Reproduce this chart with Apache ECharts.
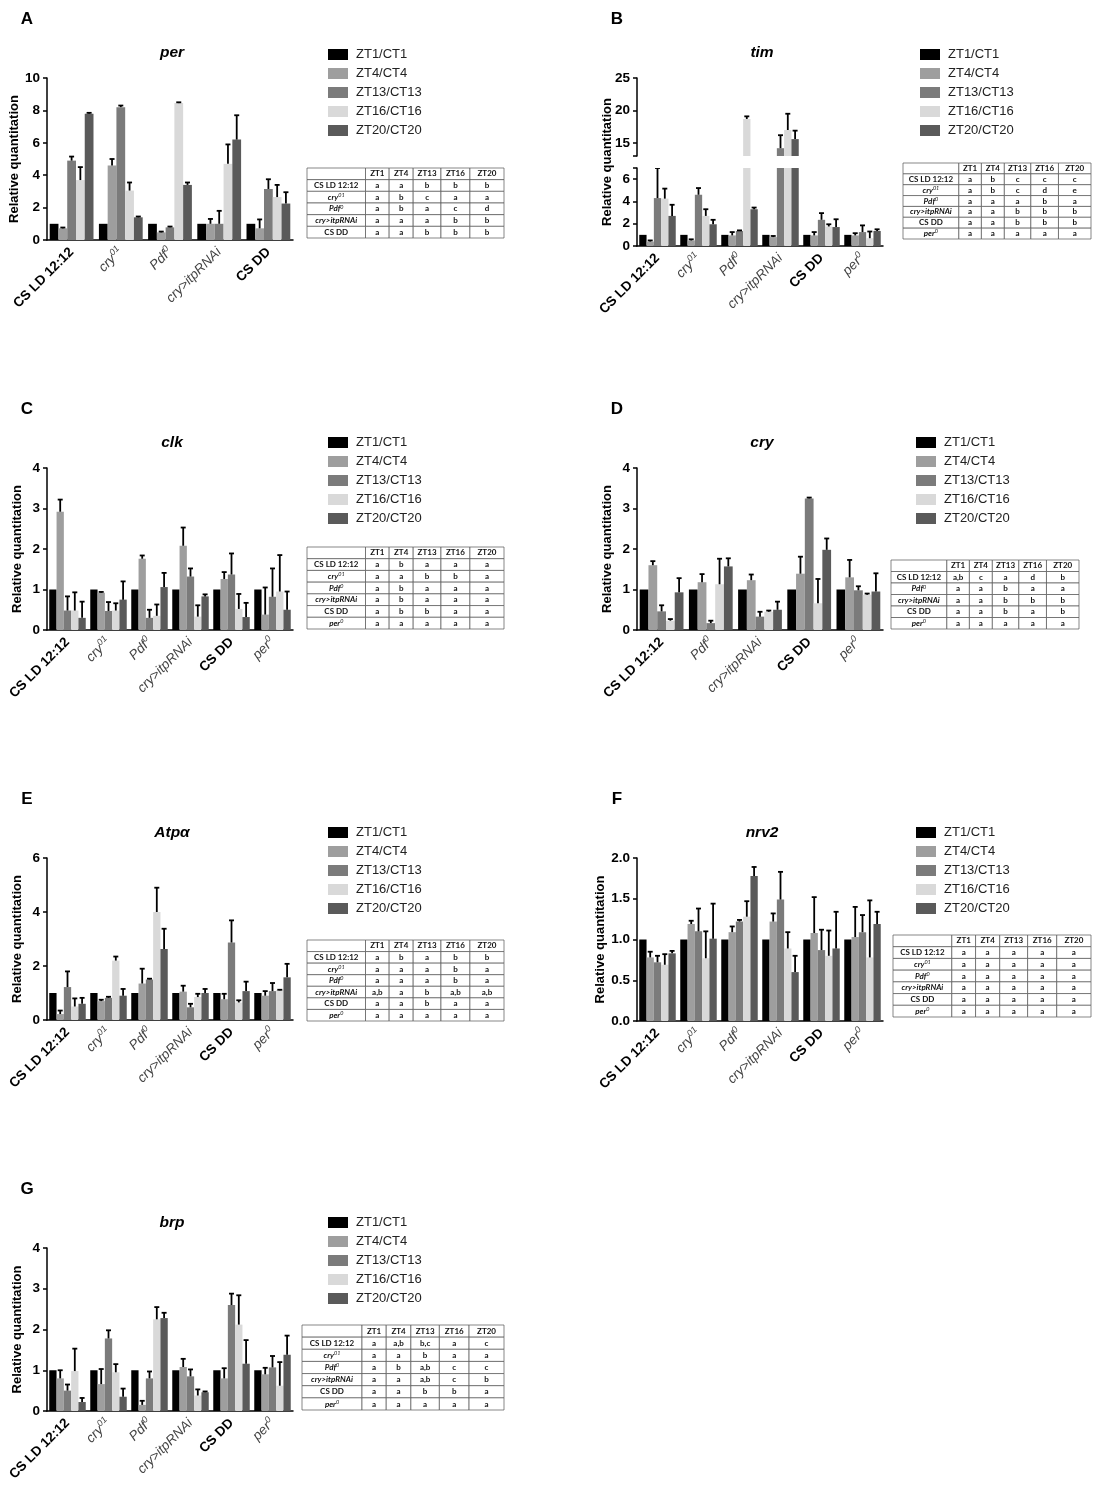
<!DOCTYPE html>
<html>
<head>
<meta charset="utf-8">
<script src="https://cdn.jsdelivr.net/npm/echarts@6/dist/echarts.min.js"></script>
<style>
html, body { margin: 0; background: #fff; }
#main { width: 1100px; height: 1491px; }
</style>
</head>
<body>
<div id="main"></div>
<script>
// 时间点 / 表头
var timePoints = ['ZT1/CT1', 'ZT4/CT4', 'ZT13/CT13', 'ZT16/CT16', 'ZT20/CT20'];
var tableHead = ['ZT1', 'ZT4', 'ZT13', 'ZT16', 'ZT20'];

// 基因型
var genoA = ['CS LD 12:12', 'cry01', 'Pdf0', 'cry>itpRNAi', 'CS DD'];
var genoAll = ['CS LD 12:12', 'cry01', 'Pdf0', 'cry>itpRNAi', 'CS DD', 'per0'];
var genoD = ['CS LD 12:12', 'Pdf0', 'cry>itpRNAi', 'CS DD', 'per0'];

// per  (rows = ZT1..ZT20, cols = genotype)
var perMean = [
    [1, 1, 1, 1, 1],
    [0.72, 4.6, 0.47, 1.0, 0.72],
    [4.9, 8.2, 0.78, 1.0, 3.15],
    [3.7, 3.05, 8.45, 4.7, 2.65],
    [7.8, 1.4, 3.4, 6.2, 2.25]
];
var perErr = [
    [0, 0, 0, 0, 0],
    [0.05, 0.4, 0.05, 0.3, 0.55],
    [0.25, 0.1, 0.05, 0.8, 0.6],
    [0.8, 0.5, 0.05, 1.2, 0.75],
    [0.05, 0.05, 0.15, 1.5, 0.7]
];
var perTable = [
    ['CS LD 12:12', 'a', 'a', 'b', 'b', 'b'],
    ['cry01', 'a', 'b', 'c', 'a', 'a'],
    ['Pdf0', 'a', 'b', 'a', 'c', 'd'],
    ['cry>itpRNAi', 'a', 'a', 'a', 'b', 'b'],
    ['CS DD', 'a', 'a', 'b', 'b', 'b']
];

// tim
var timMean = [
    [1, 1, 1, 1, 1, 1],
    [0.4, 0.5, 0.95, 0.8, 0.95, 0.95],
    [4.3, 4.6, 1.35, 14.2, 2.35, 1.25],
    [4.25, 2.7, 18.7, 17.0, 1.75, 0.7],
    [2.7, 1.95, 3.3, 15.6, 1.7, 1.35]
];
var timErr = [
    [0, 0, 0, 0, 0, 0],
    [0.1, 0.1, 0.3, 0.1, 0.3, 0.2],
    [2.7, 0.6, 0.05, 2.0, 0.6, 0.6],
    [0.9, 0.6, 0.4, 2.5, 0.2, 0.6],
    [1.0, 0.4, 0.15, 1.3, 0.7, 0.15]
];
var timTable = [
    ['CS LD 12:12', 'a', 'b', 'c', 'c', 'c'],
    ['cry01', 'a', 'b', 'c', 'd', 'e'],
    ['Pdf0', 'a', 'a', 'a', 'b', 'a'],
    ['cry>itpRNAi', 'a', 'a', 'b', 'b', 'b'],
    ['CS DD', 'a', 'a', 'b', 'b', 'b'],
    ['per0', 'a', 'a', 'a', 'a', 'a']
];

// clk
var clkMean = [
    [1, 1, 1, 1, 1, 1],
    [2.92, 0.92, 1.76, 2.08, 1.26, 0.38],
    [0.48, 0.47, 0.3, 1.32, 1.37, 0.82],
    [0.48, 0.48, 0.35, 0.33, 0.52, 0.95],
    [0.3, 0.75, 1.06, 0.83, 0.32, 0.5]
];
var clkErr = [
    [0, 0, 0, 0, 0, 0],
    [0.3, 0.02, 0.08, 0.45, 0.17, 0.67],
    [0.35, 0.22, 0.2, 0.2, 0.52, 0.7],
    [0.45, 0.18, 0.28, 0.28, 0.37, 0.9],
    [0.4, 0.45, 0.35, 0.05, 0.35, 0.45]
];
var clkTable = [
    ['CS LD 12:12', 'a', 'b', 'a', 'a', 'a'],
    ['cry01', 'a', 'a', 'b', 'b', 'a'],
    ['Pdf0', 'a', 'b', 'a', 'a', 'a'],
    ['cry>itpRNAi', 'a', 'b', 'a', 'a', 'a'],
    ['CS DD', 'a', 'b', 'b', 'a', 'a'],
    ['per0', 'a', 'a', 'a', 'a', 'a']
];

// cry
var cryMean = [
    [1, 1, 1, 1, 1],
    [1.6, 1.18, 1.23, 1.39, 1.3],
    [0.46, 0.17, 0.33, 3.25, 0.98],
    [0.23, 1.13, 0.45, 0.66, 0.87],
    [0.93, 1.57, 0.5, 1.98, 0.95]
];
var cryErr = [
    [0, 0, 0, 0, 0],
    [0.1, 0.2, 0.14, 0.42, 0.43],
    [0.15, 0.06, 0.12, 0.02, 0.1],
    [0.04, 0.63, 0.03, 0.6, 0.03],
    [0.35, 0.2, 0.2, 0.28, 0.45]
];
var cryTable = [
    ['CS LD 12:12', 'a,b', 'c', 'a', 'd', 'b'],
    ['Pdf0', 'a', 'a', 'b', 'a', 'a'],
    ['cry>itpRNAi', 'a', 'a', 'b', 'b', 'b'],
    ['CS DD', 'a', 'a', 'b', 'a', 'b'],
    ['per0', 'a', 'a', 'a', 'a', 'a']
];

// Atpα
var atpMean = [
    [1, 1, 1, 1, 1, 1],
    [0.22, 0.7, 1.35, 1.05, 0.77, 0.9],
    [1.22, 0.82, 1.5, 0.47, 2.87, 1.07],
    [0.5, 2.2, 4.0, 0.85, 0.65, 1.1],
    [0.6, 0.9, 2.63, 1.0, 1.07, 1.58]
];
var atpErr = [
    [0, 0, 0, 0, 0, 0],
    [0.13, 0.05, 0.55, 0.22, 0.2, 0.17],
    [0.58, 0.04, 0.03, 0.13, 0.82, 0.3],
    [0.3, 0.15, 0.9, 0.12, 0.08, 0.02],
    [0.22, 0.25, 0.75, 0.15, 0.35, 0.5]
];
var atpTable = [
    ['CS LD 12:12', 'a', 'b', 'a', 'b', 'b'],
    ['cry01', 'a', 'a', 'a', 'b', 'a'],
    ['Pdf0', 'a', 'a', 'a', 'b', 'a'],
    ['cry>itpRNAi', 'a,b', 'a', 'b', 'a,b', 'a,b'],
    ['CS DD', 'a', 'a', 'b', 'a', 'a'],
    ['per0', 'a', 'a', 'a', 'a', 'a']
];

// nrv2
var nrvMean = [
    [1, 1, 1, 1, 1, 1],
    [0.78, 1.19, 1.09, 1.22, 1.08, 1.03],
    [0.72, 1.1, 1.22, 1.49, 0.87, 1.09],
    [0.69, 0.77, 1.28, 0.89, 0.8, 0.78],
    [0.83, 1.01, 1.78, 0.6, 0.89, 1.19]
];
var nrvErr = [
    [0, 0, 0, 0, 0, 0],
    [0.07, 0.04, 0.07, 0.1, 0.44, 0.37],
    [0.08, 0.28, 0.02, 0.34, 0.25, 0.21],
    [0.13, 0.33, 0.19, 0.2, 0.31, 0.7],
    [0.03, 0.43, 0.11, 0.2, 0.45, 0.15]
];
var nrvTable = [
    ['CS LD 12:12', 'a', 'a', 'a', 'a', 'a'],
    ['cry01', 'a', 'a', 'a', 'a', 'a'],
    ['Pdf0', 'a', 'a', 'a', 'a', 'a'],
    ['cry>itpRNAi', 'a', 'a', 'a', 'a', 'a'],
    ['CS DD', 'a', 'a', 'a', 'a', 'a'],
    ['per0', 'a', 'a', 'a', 'a', 'a']
];

// brp
var brpMean = [
    [1, 1, 1, 1, 1, 1],
    [0.8, 0.66, 0.15, 1.08, 0.8, 0.9],
    [0.5, 1.78, 0.8, 0.85, 2.6, 1.07],
    [0.98, 0.95, 2.25, 0.38, 2.12, 0.62],
    [0.22, 0.35, 2.28, 0.46, 1.16, 1.38]
];
var brpErr = [
    [0, 0, 0, 0, 0, 0],
    [0.2, 0.37, 0.1, 0.2, 0.25, 0.16],
    [0.15, 0.2, 0.17, 0.17, 0.28, 0.28],
    [0.55, 0.2, 0.3, 0.15, 0.72, 0.58],
    [0.1, 0.2, 0.13, 0.02, 0.58, 0.47]
];
var brpTable = [
    ['CS LD 12:12', 'a', 'a,b', 'b,c', 'a', 'c'],
    ['cry01', 'a', 'a', 'b', 'a', 'a'],
    ['Pdf0', 'a', 'b', 'a,b', 'c', 'c'],
    ['cry>itpRNAi', 'a', 'a', 'a,b', 'c', 'b'],
    ['CS DD', 'a', 'a', 'b', 'b', 'a'],
    ['per0', 'a', 'a', 'a', 'a', 'a']
];

var FONT = '"Liberation Sans", Arial, sans-serif';
var barColors = ['#000000', '#9e9e9e', '#7b7b7b', '#d9d9d9', '#5a5a5a'];
var GAP = 0.11;
var colFrac = [0.297, 0.12, 0.122, 0.141, 0.147, 0.173];

// 面板布局
var panels = [
    {tag: 'A', gene: 'per', cats: genoA, mean: perMean, err: perErr, table: perTable,
        x: 47, top: 78, h: 162, max: 10, step: 2, legend: [328, 47], tbl: [307, 168, 197, 70]},
    {tag: 'B', gene: 'tim', cats: genoAll, mean: timMean, err: timErr, table: timTable,
        x: 637, top: 78, h: 168, broken: true, legend: [920, 47], tbl: [903, 163, 188, 76]},
    {tag: 'C', gene: 'clk', cats: genoAll, mean: clkMean, err: clkErr, table: clkTable,
        x: 47, top: 468, h: 162, max: 4, step: 1, legend: [328, 435], tbl: [307, 547, 197, 82]},
    {tag: 'D', gene: 'cry', cats: genoD, mean: cryMean, err: cryErr, table: cryTable,
        x: 637, top: 468, h: 162, max: 4, step: 1, legend: [916, 435], tbl: [891, 560, 188, 69]},
    {tag: 'E', gene: 'Atp\u03b1', cats: genoAll, mean: atpMean, err: atpErr, table: atpTable,
        x: 47, top: 858, h: 162, max: 6, step: 2, legend: [328, 825], tbl: [307, 940, 197, 81]},
    {tag: 'F', gene: 'nrv2', cats: genoAll, mean: nrvMean, err: nrvErr, table: nrvTable,
        x: 637, top: 858, h: 163, max: 2, step: 0.5, dec: 1, legend: [916, 825], tbl: [893, 935, 198, 82]},
    {tag: 'G', gene: 'brp', cats: genoAll, mean: brpMean, err: brpErr, table: brpTable,
        x: 47, top: 1248, h: 163, max: 4, step: 1, legend: [328, 1215], tbl: [302, 1325, 202, 85]}
];

var labelRich = {
    b: {fontFamily: FONT, fontWeight: 'bold', fontSize: 13.5, color: '#000'},
    i: {fontFamily: FONT, fontStyle: 'italic', fontSize: 13.5, color: '#444'},
    s: {fontFamily: FONT, fontStyle: 'italic', fontSize: 9, color: '#444', padding: [0, 0, 8, 0]}
};
var tblRich = {
    b: {fontFamily: 'Lato', fontWeight: 'bold', fontSize: 8, fill: '#111'},
    i: {fontFamily: 'Lato', fontWeight: 'bold', fontStyle: 'italic', fontSize: 8, fill: '#111'},
    s: {fontFamily: 'Lato', fontStyle: 'italic', fontSize: 5.5, fill: '#111', padding: [0, 0, 4, 0]}
};

function genoLabel(name) {
    switch (name) {
        case 'CS LD 12:12':
        case 'CS DD':
            return '{b|' + name + '}';
        case 'cry01':
            return '{i|cry}{s|01}';
        case 'Pdf0':
            return '{i|Pdf}{s|0}';
        case 'per0':
            return '{i|per}{s|0}';
        default:
            return '{i|' + name + '}';
    }
}

// 误差线 (只画向上的一半)
function errItem(idx, lo, hi) {
    return function (params, api) {
        var c = api.value(0), v = api.value(1), e = api.value(2);
        if (!e) return;
        var bot = v, top = v + e;
        if (lo != null) {
            if (top <= lo) return;
            bot = Math.max(bot, lo);
        }
        if (hi != null) {
            if (bot >= hi) return;
            top = Math.min(top, hi);
        }
        var p0 = api.coord([c, bot]), p1 = api.coord([c, top]);
        var band = api.size([1, 0])[0];
        var gw = band * (1 - GAP), bw = gw / 5;
        var x = p0[0] - gw / 2 + (idx + 0.5) * bw;
        var st = {stroke: '#000', lineWidth: 1.8};
        var kids = [{type: 'line', shape: {x1: x, y1: p0[1], x2: x, y2: p1[1]}, style: st}];
        if (hi == null || v + e <= hi) {
            kids.push({type: 'line', shape: {x1: x - 2.5, y1: p1[1], x2: x + 2.5, y2: p1[1]}, style: st});
        }
        return {type: 'group', children: kids};
    };
}

var option = {
    backgroundColor: '#fff',
    animation: false,
    grid: [], xAxis: [], yAxis: [], series: [], legend: [], graphic: []
};

function addPlot(p, top, height, y, showX, lo, hi) {
    var gi = option.grid.length;
    option.grid.push({left: p.x, top: top, width: 246, height: height});
    option.xAxis.push({
        type: 'category', gridIndex: gi, data: p.cats, show: showX,
        axisLine: {lineStyle: {color: '#000', width: 1.5}},
        axisTick: {alignWithLabel: true, length: 4, lineStyle: {color: '#000', width: 1.5}},
        axisLabel: {interval: 0, rotate: 45, margin: 10, formatter: genoLabel, rich: labelRich}
    });
    var axisLabel = {margin: 7, color: '#000', fontWeight: 'bold', fontSize: 13.5, fontFamily: FONT};
    if (y.labels) axisLabel.customValues = y.labels;
    if (p.dec) axisLabel.formatter = function (v) { return v.toFixed(p.dec); };
    var axisTick = {show: true, length: 4, lineStyle: {color: '#000', width: 1.5}};
    if (y.ticks) axisTick.customValues = y.ticks;
    var yAx = {
        type: 'value', gridIndex: gi, min: y.min, max: y.max,
        splitLine: {show: false},
        axisLine: {show: true, lineStyle: {color: '#000', width: 1.5}},
        axisTick: axisTick, axisLabel: axisLabel
    };
    if (y.interval) yAx.interval = y.interval;
    if (y.name) {
        yAx.name = 'Relative quantitation';
        yAx.nameLocation = 'middle';
        yAx.nameGap = 23;
        yAx.nameTextStyle = {fontFamily: FONT, fontWeight: 'bold', fontSize: 13, color: '#000'};
    }
    option.yAxis.push(yAx);
    for (var i = 0; i < 5; i++) {
        option.series.push({
            type: 'bar', name: timePoints[i], xAxisIndex: gi, yAxisIndex: gi,
            data: p.mean[i], barGap: '0%', barCategoryGap: (GAP * 100) + '%',
            itemStyle: {color: barColors[i]}, clip: true, silent: true
        });
        option.series.push({
            type: 'custom', xAxisIndex: gi, yAxisIndex: gi, z: 5, silent: true, clip: true,
            renderItem: errItem(i, lo, hi),
            encode: {x: 0, y: 1},
            data: p.cats.map(function (c, j) { return [j, p.mean[i][j], p.err[i][j]]; })
        });
    }
}

function tblLabel(name) {
    switch (name) {
        case 'cry01': return '{i|cry}{s|01}';
        case 'Pdf0': return '{i|Pdf}{s|0}';
        case 'per0': return '{i|per}{s|0}';
        case 'cry>itpRNAi': return '{i|cry>itpRNAi}';
        default: return '{b|' + name + '}';
    }
}

function tableGraphic(t, rows) {
    var x0 = t[0], y0 = t[1], w = t[2], h = t[3];
    var all = [[''].concat(tableHead)].concat(rows);
    var rh = h / all.length;
    var kids = [];
    all.forEach(function (r, ri) {
        var cx = x0;
        r.forEach(function (cell, ci) {
            var cw = w * colFrac[ci];
            kids.push({type: 'rect', shape: {x: cx, y: y0 + ri * rh, width: cw, height: rh},
                style: {fill: '#fff', stroke: '#555', lineWidth: 0.7}});
            kids.push({type: 'text', x: cx + cw / 2, y: y0 + ri * rh + rh / 2,
                style: {text: (ci === 0 && ri > 0) ? tblLabel(cell) : cell, rich: tblRich,
                    align: 'center', verticalAlign: 'middle', fontFamily: 'Lato',
                    fontSize: 8, fontWeight: 'bold', fill: '#111'}});
            cx += cw;
        });
    });
    return {type: 'group', silent: true, children: kids};
}

panels.forEach(function (p) {
    if (p.broken) {
        // 断轴: 上段 13–25, 下段 0–7
        addPlot(p, p.top, 78, {min: 13, max: 25, labels: [15, 20, 25], ticks: [13, 15, 20, 25]}, false, 13, null);
        addPlot(p, p.top + 90, 78, {min: 0, max: 7, labels: [0, 2, 4, 6], ticks: [0, 2, 4, 6, 7]}, true, null, 7);
        option.graphic.push({type: 'text', x: p.x - 30, y: p.top + p.h / 2, rotation: Math.PI / 2,
            style: {text: 'Relative quantitation', align: 'center', verticalAlign: 'middle',
                fontFamily: FONT, fontWeight: 'bold', fontSize: 13, fill: '#000'}});
    } else {
        addPlot(p, p.top, p.h, {min: 0, max: p.max, interval: p.step, name: true}, true, null, null);
    }
    option.legend.push({
        orient: 'vertical', left: p.legend[0], top: p.legend[1], icon: 'rect', padding: 0,
        itemWidth: 20, itemHeight: 11, itemGap: 4, selectedMode: false, data: timePoints,
        textStyle: {fontFamily: FONT, fontSize: 13, color: '#222', lineHeight: 15, padding: [0, 0, 0, 3]}
    });
    option.graphic.push({type: 'text', x: p.x + 125, y: p.top - 25,
        style: {text: p.gene, align: 'center', verticalAlign: 'middle', fontFamily: FONT,
            fontSize: 15.5, fontWeight: 'bold', fontStyle: 'italic', fill: '#000'}});
    option.graphic.push({type: 'text', x: p.x - 20, y: p.top - 59,
        style: {text: p.tag, align: 'center', verticalAlign: 'middle', fontFamily: FONT,
            fontSize: 17, fontWeight: 'bold', fill: '#000'}});
    option.graphic.push(tableGraphic(p.tbl, p.table));
});

var chart = echarts.init(document.getElementById('main'));
chart.setOption(option);
</script>
</body>
</html>
